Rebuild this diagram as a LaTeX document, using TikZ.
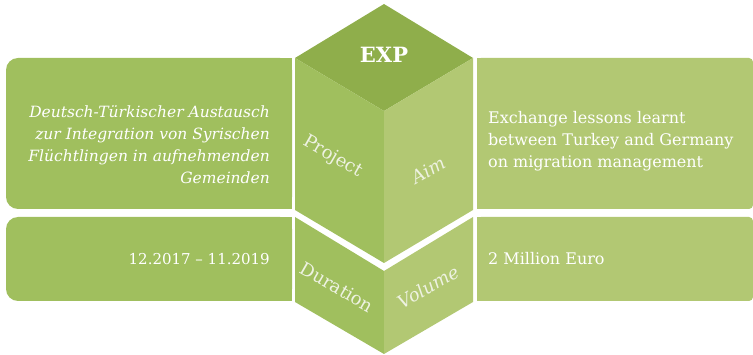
\documentclass[tikz,border=0pt]{standalone}
\usepackage{fontspec}
\setmainfont{DejaVu Serif}
\usetikzlibrary{positioning}

\definecolor{topgreen}{HTML}{8FAE4B}
\definecolor{leftgreen}{HTML}{A0BF5E}
\definecolor{rightgreen}{HTML}{B2C873}
\definecolor{facetext}{HTML}{EEF2E2}

\begin{document}
\begin{tikzpicture}[x=1pt,y=-1pt,
    paneltext/.style={text=white, inner sep=0pt, font=\fontsize{16}{22}\selectfont},
    facelabel/.style={text=facetext, inner sep=0pt, font=\fontsize{18}{20}\selectfont}]
    \useasboundingbox (0,0) rectangle (753,355);

    % Left panels
    \fill[leftgreen, rounded corners=12pt] (6,58) rectangle (292,209);
    \fill[leftgreen] (260,58) rectangle (292,209);
    \fill[leftgreen, rounded corners=12pt] (6,217) rectangle (292,301);
    \fill[leftgreen] (260,217) rectangle (292,301);

    % Right panels
    \fill[rightgreen, rounded corners=4pt] (477,58) rectangle (753,209);
    \fill[rightgreen] (477,58) rectangle (500,209);
    \fill[rightgreen, rounded corners=4pt] (477,217) rectangle (753,301);
    \fill[rightgreen] (477,217) rectangle (500,301);

    % Cube, upper block
    \fill[topgreen] (384,4) -- (473,58) -- (384,111) -- (295,58) -- cycle;
    \fill[leftgreen] (295,58) -- (384,111) -- (384,263) -- (295,210) -- cycle;
    \fill[rightgreen] (384,111) -- (473,58) -- (473,210) -- (384,263) -- cycle;

    % Cube, lower block
    \fill[leftgreen] (295,217) -- (384,271) -- (384,354) -- (295,302) -- cycle;
    \fill[rightgreen] (384,271) -- (473,217) -- (473,302) -- (384,354) -- cycle;

    % Title
    \node[text=white, font=\fontsize{21}{24}\selectfont\bfseries] (title) at (384,55) {EXP};

    % Face labels
    \node[facelabel, rotate=-30] (projlabel) at (333,157) {Project};
    \node[facelabel, rotate=30, font=\fontsize{18}{20}\selectfont\itshape] (aimlabel) at (428,170) {Aim};
    \node[facelabel, rotate=-30] (durlabel) at (337,287) {Duration};
    \node[facelabel, rotate=30, font=\fontsize{18}{20}\selectfont\itshape] (vollabel) at (428,287) {Volume};

    % Panel texts
    \node[paneltext, anchor=east, align=right, font=\fontsize{15.5}{22}\selectfont\itshape] (projtext) at (270,145)
        {Deutsch-Türkischer Austausch\\zur Integration von Syrischen\\Flüchtlingen in aufnehmenden\\Gemeinden};
    \node[paneltext, anchor=west, align=left] (aimtext) at (488,141)
        {Exchange lessons learnt\\between Turkey and Germany\\on migration management};
    \node[paneltext, anchor=east, font=\fontsize{15}{22}\selectfont] (durtext) at (270,259) {12.2017 – 11.2019};
    \node[paneltext, anchor=west] (voltext) at (488,259) {2 Million Euro};
\end{tikzpicture}
\end{document}
